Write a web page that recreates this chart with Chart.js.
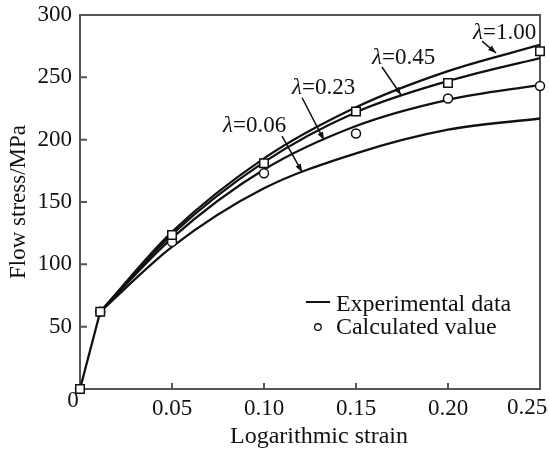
<!DOCTYPE html>
<html><head><meta charset="utf-8">
<script src="https://cdn.jsdelivr.net/npm/chart.js@4.4.1/dist/chart.umd.min.js"></script>
<style>html,body{margin:0;padding:0;background:#fff}</style>
</head><body>
<canvas id="c" width="549" height="453"></canvas>
<script>
// ---- data ----
const elasticStrain = [0, 0.011];
const elasticStress = [0, 62];
const strain = [0.011, 0.05, 0.10, 0.15, 0.20, 0.25];
const lambda100 = [62, 126, 185, 226, 255, 276];
const lambda045 = [62, 124, 182, 222, 247, 265.5];
const lambda023 = [62, 121, 176, 211, 232, 244];
const lambda006 = [62, 114, 161, 189, 208, 217];
const calcStrain = [0, 0.011, 0.05, 0.10, 0.15, 0.20, 0.25];
const calcSquare = [0, 62, 123.5, 181, 222.5, 245.5, 271];
const calcCircle = [0, 62, 118, 173, 205, 233, 243];
const lambdaValues = ['1.00', '0.45', '0.23', '0.06'];
const legendLabels = ['Experimental data', 'Calculated value'];
const xTitle = 'Logarithmic strain';
const yTitle = 'Flow stress/MPa';

// annotation anchors in data units [strain, stress]
const noteText = [[0.2136, 280.7], [0.1587, 260.7], [0.1152, 236.6], [0.0777, 206.1]];
const noteFrom = [[0.2185, 279.1], [0.1641, 258.3], [0.1207, 233.6], [0.1098, 202.9]];
const noteTo   = [[0.2261, 269.5], [0.1745, 235.8], [0.1326, 199.7], [0.1207, 174.1]];

const FONT = "'Liberation Serif', 'Times New Roman', serif";
const pts = (xs, ys) => xs.map((x, i) => ({x, y: ys[i]}));

const curve = (ys) => ({
  data: pts(strain, ys), borderColor: '#111', borderWidth: 2.3, pointRadius: 0,
  cubicInterpolationMode: 'monotone', fill: false, order: 2
});

const decor = {
  id: 'decor',
  beforeDatasetsDraw(chart) {
    const {ctx, chartArea: a} = chart;
    ctx.save();
    ctx.strokeStyle = '#555';
    ctx.lineWidth = 2;
    ctx.strokeRect(a.left, a.top, a.right - a.left, a.bottom - a.top);
    // inward ticks
    const xs = chart.scales.x, ys = chart.scales.y;
    ctx.beginPath();
    ys.ticks.forEach(t => {
      if (t.value <= 0 || t.value >= 300) return;
      const y = ys.getPixelForValue(t.value);
      ctx.moveTo(a.left, y); ctx.lineTo(a.left + 7, y);
    });
    xs.ticks.forEach(t => {
      if (t.value <= 0 || t.value >= 0.2499) return;
      const x = xs.getPixelForValue(t.value);
      ctx.moveTo(x, a.bottom); ctx.lineTo(x, a.bottom - 6);
    });
    ctx.stroke();
    ctx.restore();
  },
  afterDatasetsDraw(chart) {
    const {ctx, chartArea: a} = chart;
    const xs = chart.scales.x, ys = chart.scales.y;
    const P = (p) => [xs.getPixelForValue(p[0]), ys.getPixelForValue(p[1])];
    ctx.save();
    ctx.fillStyle = '#111';
    ctx.strokeStyle = '#111';
    // zero label at the corner and last x label
    ctx.font = `23px ${FONT}`;
    ctx.textAlign = 'center';
    ctx.textBaseline = 'middle';
    ctx.fillText('0', xs.getPixelForValue(0) - 7, ys.getPixelForValue(0) + 12);
    const lastTick = xs.max;
    ctx.fillText(lastTick.toFixed(2), xs.getPixelForValue(lastTick) - 13, ys.getPixelForValue(0) + 19);
    // x title
    ctx.font = `24px ${FONT}`;
    ctx.fillText(xTitle, (a.left + a.right) / 2 + 9, 437);
    // lambda notes
    ctx.textAlign = 'left';
    ctx.textBaseline = 'alphabetic';
    lambdaValues.forEach((v, i) => {
      const [tx, ty] = P(noteText[i]);
      ctx.font = `italic 23px ${FONT}`;
      ctx.fillText('λ', tx, ty);
      const w = ctx.measureText('λ').width;
      ctx.font = `23px ${FONT}`;
      ctx.fillText('=' + v, tx + w, ty);
      const [x1, y1] = P(noteFrom[i]);
      const [x2, y2] = P(noteTo[i]);
      ctx.lineWidth = 1.5;
      ctx.beginPath(); ctx.moveTo(x1, y1); ctx.lineTo(x2, y2); ctx.stroke();
      const ang = Math.atan2(y2 - y1, x2 - x1);
      const L = 8, W = 3;
      ctx.beginPath();
      ctx.moveTo(x2, y2);
      ctx.lineTo(x2 - L * Math.cos(ang) + W * Math.sin(ang), y2 - L * Math.sin(ang) - W * Math.cos(ang));
      ctx.lineTo(x2 - L * Math.cos(ang) - W * Math.sin(ang), y2 - L * Math.sin(ang) + W * Math.cos(ang));
      ctx.closePath(); ctx.fill();
    });
    // legend
    const [lx1, ly1] = P([0.1228, 69.8]);
    const [lx2] = P([0.1359, 69.8]);
    ctx.lineWidth = 2;
    ctx.beginPath(); ctx.moveTo(lx1, ly1); ctx.lineTo(lx2, ly1); ctx.stroke();
    ctx.font = `24px ${FONT}`;
    const [t1x, t1y] = P([0.1391, 62.6]);
    ctx.fillText(legendLabels[0], t1x, t1y);
    const [cx, cy] = P([0.1293, 49.7]);
    ctx.lineWidth = 1.3;
    ctx.beginPath(); ctx.arc(cx, cy, 3.3, 0, Math.PI * 2); ctx.stroke();
    const [t2x, t2y] = P([0.1391, 44.5]);
    ctx.fillText(legendLabels[1], t2x, t2y);
    ctx.restore();
  }
};

new Chart(document.getElementById('c'), {
  type: 'line',
  data: {
    datasets: [
      {data: pts(calcStrain, calcSquare), showLine: false, pointStyle: 'rect', pointRadius: 6,
       pointBackgroundColor: '#fff', pointBorderColor: '#111', pointBorderWidth: 1.5, clip: false, order: 0},
      {data: pts(calcStrain, calcCircle), showLine: false, pointStyle: 'circle', pointRadius: 4.5,
       pointBackgroundColor: '#fff', pointBorderColor: '#111', pointBorderWidth: 1.5, clip: false, order: 1},
      {data: pts(elasticStrain, elasticStress), borderColor: '#111', borderWidth: 2.3, pointRadius: 0, tension: 0, order: 2},
      curve(lambda100), curve(lambda045), curve(lambda023), curve(lambda006)
    ]
  },
  options: {
    responsive: false,
    animation: false,
    layout: {padding: {left: 0, right: 9, top: 15, bottom: 0}},
    plugins: {legend: {display: false}, tooltip: {enabled: false}},
    scales: {
      x: {
        type: 'linear', min: 0, max: 0.25,
        grid: {display: false, drawTicks: false},
        border: {display: false},
        ticks: {stepSize: 0.05, padding: 6, color: '#111', font: {family: FONT, size: 23},
                maxRotation: 0, autoSkip: false,
                callback: v => (v === 0 || v >= 0.2499 ? '' : v.toFixed(2))},
        title: {display: false, text: xTitle},
        afterFit(s) { s.height = 64; s.paddingLeft = 0; s.paddingRight = 0; }
      },
      y: {
        type: 'linear', min: 0, max: 300,
        grid: {display: false, drawTicks: false},
        border: {display: false},
        ticks: {stepSize: 50, padding: 8, color: '#111', font: {family: FONT, size: 23},
                callback: v => (v === 0 ? '' : v)},
        title: {display: true, text: yTitle, color: '#111', font: {family: FONT, size: 23}, padding: {top: 5, bottom: 0}},
        afterFit(s) { s.width = 80; s.paddingTop = 0; s.paddingBottom = 0; }
      }
    }
  },
  plugins: [decor]
});
</script>
</body></html>
